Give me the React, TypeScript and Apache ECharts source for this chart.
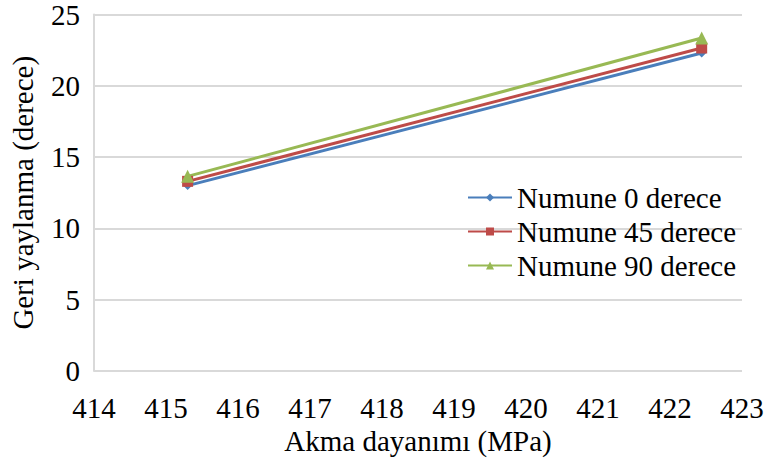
import React, { useEffect, useRef } from "react";
import * as echarts from "echarts";

// Yield strength (MPa) for each specimen orientation
const yieldStrength = [415.3, 422.44];
// Springback angle (degrees) per orientation
const springback0 = [13.0, 22.3];
const springback45 = [13.3, 22.65];
const springback90 = [13.65, 23.35];

const seriesNames = ["Numune 0 derece", "Numune 45 derece", "Numune 90 derece"];
const xTitle = "Akma dayanımı (MPa)";
const yTitle = "Geri yaylanma (derece)";

const FONT = "Liberation Serif";
const FS = 29;

export default function App() {
  const ref = useRef<HTMLDivElement>(null);

  useEffect(() => {
    if (!ref.current) return;
    const chart = echarts.init(ref.current, undefined, { renderer: "svg" });

    const makeSeries = (
      name: string,
      values: number[],
      color: string,
      symbol: string,
      symbolSize: number
    ) => ({
      name,
      type: "line",
      data: yieldStrength.map((x, i) => [x, values[i]]),
      symbol,
      symbolSize,
      showAllSymbol: true,
      lineStyle: { color, width: 3 },
      itemStyle: { color },
    });

    const text = { fontFamily: FONT, fontSize: FS, color: "#000" };

    chart.setOption({
      animation: false,
      backgroundColor: "#ffffff",
      textStyle: { fontFamily: FONT },
      grid: { left: 90, right: 30, top: 14, bottom: 93 },
      legend: {
        orient: "vertical",
        left: 462,
        top: 178,
        itemGap: 5,
        itemWidth: 44,
        itemHeight: 10,
        textStyle: { ...text, padding: [0, 0, 0, 0] },
        data: seriesNames,
      },
      xAxis: {
        type: "value",
        min: 414,
        max: 423,
        interval: 1,
        name: xTitle,
        nameLocation: "middle",
        nameGap: 53,
        nameTextStyle: text,
        axisLine: { show: false },
        axisTick: { show: false },
        splitLine: { show: false },
        axisLabel: { ...text, margin: 22 },
      },
      yAxis: {
        type: "value",
        min: 0,
        max: 25,
        interval: 5,
        name: yTitle,
        nameLocation: "middle",
        nameGap: 57,
        nameTextStyle: text,
        axisLine: { show: true, lineStyle: { color: "#d9d9d9", width: 2 } },
        axisTick: { show: false },
        splitLine: { show: true, lineStyle: { color: "#d9d9d9", width: 2 } },
        axisLabel: { ...text, margin: 14 },
      },
      series: [
        makeSeries(seriesNames[0], springback0, "#4A7EBB", "diamond", 9),
        makeSeries(seriesNames[1], springback45, "#BE4B48", "rect", 11),
        makeSeries(seriesNames[2], springback90, "#98B954", "triangle", 13),
      ],
    });

    return () => chart.dispose();
  }, []);

  return (
    <div
      ref={ref}
      style={{ position: "fixed", left: 0, top: 0, width: 772, height: 464, background: "#fff" }}
    />
  );
}
